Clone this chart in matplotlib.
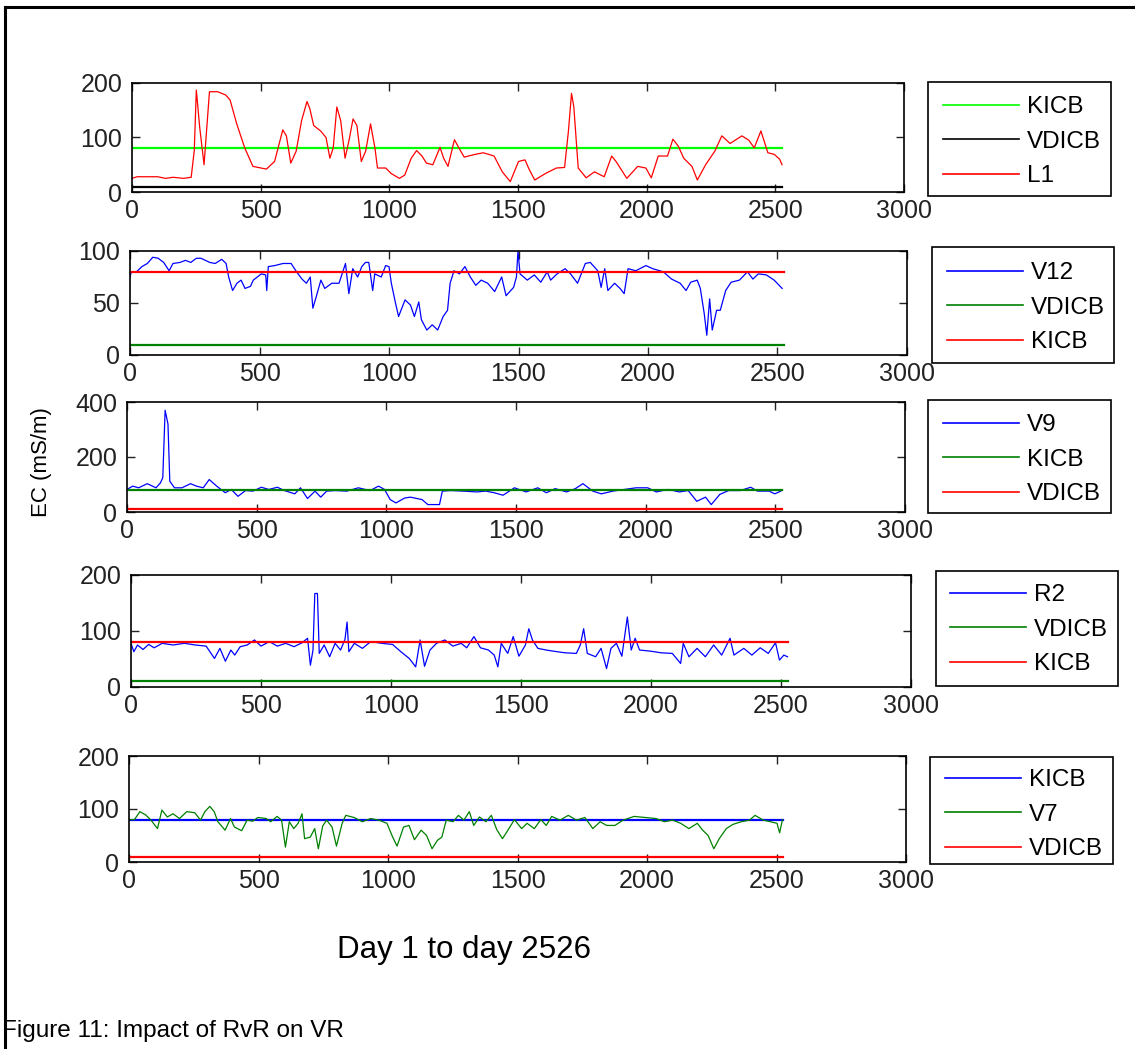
import matplotlib
matplotlib.use("Agg")
import matplotlib.pyplot as plt
from matplotlib.lines import Line2D
from matplotlib.patches import Rectangle

plt.rcParams['font.family'] = ['Liberation Sans', 'DejaVu Sans']

# guideline levels (mS/m) and record length
KICB = 80
VDICB = 10
LAST_DAY = 2526

# L1
l1_days = [0, 20, 100, 130, 160, 200, 230, 242, 250, 263, 280, 301, 333, 364, 381,
           407, 438, 470, 522, 554, 586, 600, 617, 638, 659, 680, 691, 706, 733,
           754, 769, 782, 796, 811, 828, 843, 859, 874, 891, 908, 927, 944, 954,
           986, 1007, 1039, 1060, 1085, 1106, 1127, 1144, 1169, 1197, 1211, 1228,
           1253, 1270, 1291, 1333, 1365, 1407, 1439, 1470, 1502, 1527, 1544, 1565,
           1607, 1649, 1681, 1696, 1708, 1717, 1734, 1765, 1797, 1835, 1864, 1881,
           1923, 1965, 1997, 2018, 2045, 2081, 2102, 2123, 2144, 2176, 2197, 2229,
           2265, 2292, 2324, 2370, 2397, 2418, 2444, 2471, 2496, 2517, 2526]
l1_vals = [25, 28, 28, 25, 27, 25, 27, 76, 187, 119, 50, 184, 184, 178, 169,
           125, 81, 47, 42, 56, 114, 103, 53, 75, 131, 166, 153, 122, 112,
           100, 62, 81, 156, 131, 62, 94, 134, 122, 56, 75, 125, 81, 44,
           44, 34, 25, 31, 62, 76, 66, 53, 50, 82, 62, 47,
           96, 81, 64, 69, 72, 66, 37, 19, 56, 59, 41, 22,
           34, 44, 45, 112, 181, 156, 44, 26, 37, 28, 66, 56,
           25, 47, 44, 26, 66, 66, 97, 84, 62, 47, 22, 50,
           75, 103, 89, 103, 95, 81, 112, 72, 69, 60, 50]

# V12
v12_days = [0, 5, 25, 46, 67, 88, 109, 130, 151, 166, 193, 214, 235, 256, 274, 308,
            329, 354, 371, 381, 396, 413, 429, 444, 465, 476, 507, 524, 528, 534,
            559, 591, 622, 643, 664, 681, 696, 706, 719, 737, 752, 779, 807, 832,
            845, 860, 879, 895, 909, 922, 937, 945, 970, 987, 1000, 1009, 1025,
            1037, 1062, 1083, 1098, 1115, 1125, 1146, 1167, 1188, 1209, 1226, 1236,
            1251, 1272, 1293, 1314, 1335, 1356, 1381, 1408, 1435, 1452, 1481, 1492,
            1498, 1506, 1534, 1561, 1586, 1611, 1624, 1649, 1680, 1701, 1728, 1758,
            1777, 1806, 1819, 1833, 1845, 1871, 1892, 1908, 1923, 1953, 1992, 2018,
            2059, 2091, 2124, 2147, 2165, 2190, 2202, 2217, 2227, 2238, 2248, 2265,
            2279, 2300, 2321, 2353, 2384, 2405, 2426, 2457, 2487, 2518]
v12_vals = [75, 80, 80, 85, 88, 94, 93, 89, 81, 88, 89, 91, 89, 93, 93, 89,
            88, 92, 88, 75, 62, 69, 72, 64, 66, 72, 78, 77, 62, 85,
            86, 88, 88, 80, 73, 69, 75, 45, 56, 72, 64, 69, 69, 88,
            59, 83, 75, 85, 89, 89, 62, 78, 75, 86, 85, 69, 50,
            37, 53, 48, 37, 51, 34, 24, 29, 24, 37, 43, 69,
            81, 78, 85, 75, 67, 72, 69, 61, 75, 57, 65, 75,
            100, 78, 72, 77, 70, 80, 72, 78, 83, 78, 69, 88,
            89, 81, 65, 83, 62, 69, 64, 59, 83, 81, 86, 83,
            80, 73, 69, 62, 70, 72, 64, 40, 19, 54, 24, 43,
            43, 62, 70, 72, 80, 73, 78, 77, 72, 64]

# V9
v9_days = [0, 22, 45, 78, 112, 129, 138, 147, 158, 165, 183, 212, 245, 268, 294,
           317, 346, 379, 402, 428, 457, 486, 518, 547, 580, 607, 647, 669, 696,
           725, 747, 770, 803, 848, 892, 937, 970, 993, 1015, 1037, 1071, 1093,
           1138, 1160, 1205, 1216, 1249, 1294, 1350, 1383, 1416, 1450, 1494, 1539,
           1584, 1617, 1651, 1695, 1729, 1758, 1796, 1829, 1874, 1918, 1963, 2008,
           2041, 2086, 2130, 2164, 2197, 2231, 2253, 2286, 2320, 2365, 2405, 2431,
           2476, 2498, 2521]
v9_vals = [82, 94, 88, 103, 88, 106, 125, 370, 320, 112, 88, 88, 103, 94, 88,
           118, 94, 70, 82, 57, 78, 76, 90, 82, 90, 78, 66, 88, 49,
           76, 54, 76, 78, 76, 88, 78, 94, 82, 45, 33, 51, 54,
           45, 27, 27, 76, 78, 76, 73, 76, 70, 61, 88, 73,
           88, 70, 85, 73, 85, 103, 76, 66, 76, 82, 88, 88,
           73, 82, 73, 78, 39, 54, 27, 64, 78, 78, 90, 76,
           76, 66, 76]

# R2
r2_days = [0, 11, 25, 46, 68, 89, 120, 162, 205, 247, 289, 321, 342, 363, 384, 399,
           420, 447, 475, 500, 532, 563, 595, 627, 658, 679, 690, 700, 707, 717,
           724, 743, 764, 785, 806, 823, 831, 838, 859, 890, 922, 964, 1006, 1038,
           1070, 1095, 1112, 1129, 1150, 1175, 1207, 1238, 1270, 1291, 1319, 1344,
           1375, 1397, 1411, 1424, 1449, 1470, 1492, 1517, 1530, 1544, 1565, 1597,
           1639, 1671, 1713, 1728, 1741, 1755, 1787, 1808, 1829, 1846, 1867, 1888,
           1909, 1924, 1939, 1956, 1998, 2040, 2082, 2114, 2124, 2146, 2177, 2209,
           2241, 2272, 2304, 2319, 2357, 2388, 2420, 2451, 2479, 2494, 2511, 2525]
r2_vals = [78, 63, 75, 67, 76, 70, 78, 75, 78, 75, 73, 51, 69, 46, 66, 57,
           72, 75, 84, 73, 81, 73, 78, 72, 79, 87, 39, 66, 167, 167,
           60, 75, 54, 78, 66, 85, 116, 63, 78, 69, 81, 78, 76, 63,
           51, 36, 84, 37, 66, 78, 84, 73, 78, 70, 90, 70,
           66, 57, 36, 78, 60, 90, 55, 75, 104, 84, 69, 66,
           63, 61, 60, 75, 104, 60, 54, 69, 33, 69, 78, 55,
           125, 66, 87, 66, 64, 61, 60, 42, 78, 54, 69, 54,
           75, 57, 87, 57, 69, 57, 70, 60, 79, 48, 57, 54]

# V7
v7_days = [0, 21, 42, 64, 85, 110, 127, 148, 170, 195, 223, 254, 276, 293, 312, 329,
           343, 371, 392, 407, 435, 456, 477, 498, 530, 547, 572, 589, 604, 619,
           636, 653, 668, 678, 700, 717, 731, 748, 763, 784, 801, 823, 837, 869,
           901, 933, 965, 996, 1018, 1035, 1060, 1081, 1102, 1128, 1149, 1170, 1191,
           1208, 1225, 1251, 1272, 1293, 1314, 1331, 1353, 1378, 1399, 1420, 1442,
           1463, 1488, 1516, 1537, 1565, 1590, 1611, 1632, 1664, 1696, 1728, 1760,
           1791, 1819, 1844, 1876, 1908, 1950, 1993, 2035, 2067, 2099, 2130, 2162,
           2194, 2215, 2236, 2258, 2279, 2306, 2332, 2364, 2396, 2417, 2449, 2476,
           2502, 2512, 2523]
v7_vals = [80, 80, 95, 89, 79, 63, 98, 85, 91, 82, 95, 93, 79, 95, 105, 95,
           76, 60, 82, 66, 59, 79, 77, 84, 82, 76, 86, 79, 28, 76,
           63, 73, 91, 44, 47, 63, 25, 68, 79, 66, 30, 73, 88, 84,
           76, 82, 79, 73, 47, 30, 66, 69, 42, 60, 50, 25, 41,
           47, 79, 76, 88, 79, 95, 69, 85, 76, 88, 61, 44,
           60, 80, 63, 73, 63, 80, 69, 86, 79, 88, 79, 84,
           63, 76, 69, 69, 79, 86, 84, 82, 76, 79, 73, 63,
           73, 60, 50, 25, 44, 63, 71, 76, 79, 88, 79, 76,
           73, 55, 80]

LIME = (0, 1, 0)
DKGREEN = (0, 0.5, 0)

# series, y limit, y ticks, axes box (px), legend frame (px), legend line start / first row (px)
panels = [
    ([('KICB', None, KICB, LIME), ('VDICB', None, VDICB, 'k'), ('L1', l1_days, l1_vals, 'r')],
     200, [0, 100, 200], (132, 83, 904, 192), (928, 82, 1111, 196), (943, 104)),
    ([('V12', v12_days, v12_vals, 'b'), ('VDICB', None, VDICB, DKGREEN), ('KICB', None, KICB, 'r')],
     100, [0, 50, 100], (130, 251, 907, 355), (932, 247, 1114, 363), (947, 270)),
    ([('V9', v9_days, v9_vals, 'b'), ('KICB', None, KICB, DKGREEN), ('VDICB', None, VDICB, 'r')],
     400, [0, 200, 400], (127, 402, 905, 512), (928, 400, 1111, 513), (943, 422)),
    ([('R2', r2_days, r2_vals, 'b'), ('VDICB', None, VDICB, DKGREEN), ('KICB', None, KICB, 'r')],
     200, [0, 100, 200], (131, 575, 911, 687), (936, 571, 1118, 686), (950, 592)),
    ([('KICB', None, KICB, 'b'), ('V7', v7_days, v7_vals, DKGREEN), ('VDICB', None, VDICB, 'r')],
     200, [0, 100, 200], (129, 756, 906, 862), (930, 757, 1113, 864), (945, 777)),
]

W, H = 1135, 1049
fig = plt.figure(figsize=(W / 100, H / 100), dpi=100)

def fx(px):
    return px / W

def fy(py):
    return 1 - py / H

for series, ymax, yticks, (l, t, r, b), (bl, bt, br, bb), (lx, ly) in panels:
    ax = fig.add_axes([fx(l), fy(b), (r - l) / W, (b - t) / H])
    for name, days, vals, color in series:
        if days is None:
            ax.plot([0, LAST_DAY], [vals, vals], color=color, lw=1.6, label=name)
        else:
            ax.plot(days, vals, color=color, lw=0.9, label=name)
    ax.set_xlim(0, 3000)
    ax.set_ylim(0, ymax)
    ax.set_xticks(range(0, 3001, 500))
    ax.set_yticks(yticks)
    ax.tick_params(direction='in', top=True, right=True, length=6, width=1,
                   labelsize=18, colors='#222222')
    ax.tick_params(axis='x', pad=5)
    ax.tick_params(axis='y', pad=7)
    for sp in ax.spines.values():
        sp.set_linewidth(1.2)

    # legend entries without their own frame; the box is drawn separately
    leg = ax.legend(loc='upper left', bbox_to_anchor=(fx(lx), fy(ly - 8)),
                    bbox_transform=fig.transFigure, borderaxespad=0, borderpad=0,
                    fontsize=17.5, frameon=False, handlelength=3.13,
                    handletextpad=0.33, labelspacing=0.52)
    for line in leg.get_lines():
        line.set_linewidth(1.2)
    fig.add_artist(Rectangle((fx(bl), fy(bb)), (br - bl) / W, (bb - bt) / H,
                             transform=fig.transFigure, fill=False,
                             edgecolor='k', lw=1.2))

fig.text(42 / W, fy(462), 'EC (mS/m)', rotation=90, ha='center', va='center',
         fontsize=16)
fig.text(464 / W, fy(950), 'Day 1 to day 2526', ha='center', va='center',
         fontsize=22.5)
fig.text(2 / W, fy(1031), 'Figure 11: Impact of RvR on VR', ha='left', va='center',
         fontsize=17.5)

# page frame: top and left rules
fig.add_artist(Line2D([fx(5), 1], [fy(7), fy(7)], color='k', lw=2.2,
                      transform=fig.transFigure))
fig.add_artist(Line2D([fx(5), fx(5)], [fy(7), 0], color='k', lw=2.2,
                      transform=fig.transFigure))

fig.savefig('out.png', dpi=100)
